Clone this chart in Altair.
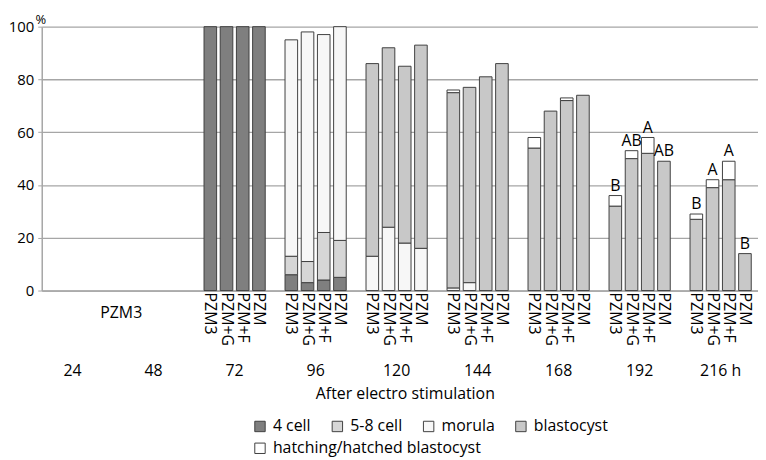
import altair as alt
import pandas as pd

# ---- data ----
times = ["24", "48", "72", "96", "120", "144", "168", "192", "216"]
time_labels = ["24", "48", "72", "96", "120", "144", "168", "192", "216 h"]
treatments = ["PZM3", "PZM+G", "PZM+F", "PZM"]
bar_times = ["72", "96", "120", "144", "168", "192", "216"]
stages = ["4 cell", "5-8 cell", "morula", "blastocyst", "hatching/hatched blastocyst"]

#              72 h               96 h            120 h            144 h           168 h           192 h           216 h
four_cell  = [100, 100, 100, 100, 6, 3, 4, 5,     0, 0, 0, 0,     0, 0, 0, 0,     0, 0, 0, 0,     0, 0, 0, 0,     0, 0, 0, 0]
five_eight = [0, 0, 0, 0,         7, 8, 18, 14,   0, 0, 0, 0,     0, 0, 0, 0,     0, 0, 0, 0,     0, 0, 0, 0,     0, 0, 0, 0]
morula     = [0, 0, 0, 0,         82, 87, 75, 81, 13, 24, 18, 16, 1, 3, 0, 0,     0, 0, 0, 0,     0, 0, 0, 0,     0, 0, 0, 0]
blastocyst = [0, 0, 0, 0,         0, 0, 0, 0,     73, 68, 67, 77, 74, 74, 81, 86, 54, 68, 72, 74, 32, 50, 52, 49, 27, 39, 42, 14]
hatching   = [0, 0, 0, 0,         0, 0, 0, 0,     0, 0, 0, 0,     1, 0, 0, 0,     4, 0, 1, 0,     4, 3, 6, 0,     2, 3, 7, 0]

letter_times = ["192", "216"]
letters = ["B", "AB", "A", "AB", "B", "A", "A", "B"]

stage_values = [four_cell, five_eight, morula, blastocyst, hatching]

# ---- build tables ----
seg_rows, bar_rows = [], []
for ti, t in enumerate(bar_times):
    g = times.index(t)
    for j, tr in enumerate(treatments):
        k = ti * 4 + j
        base = 0
        for st, arr in zip(stages, stage_values):
            v = arr[k]
            if v > 0:
                seg_rows.append(dict(time=t, treatment=tr, stage=st, start=base, end=base + v, slot=5 * g + j))
                base += v
        bar_rows.append(dict(time=t, treatment=tr, top=base, slot=5 * g + j))

seg = pd.DataFrame(seg_rows)
bars = pd.DataFrame(bar_rows)
main_seg = seg[seg.stage != stages[4]]
hatch_seg = seg[seg.stage == stages[4]]

let_rows = []
for ti, t in enumerate(letter_times):
    for j, tr in enumerate(treatments):
        row = bars[(bars.time == t) & (bars.treatment == tr)].iloc[0]
        let_rows.append(dict(slot=row.slot, top=row.top, letter=letters[ti * 4 + j]))
let_df = pd.DataFrame(let_rows)

time_df = pd.DataFrame(dict(label=time_labels, slot=[5 * g + 1.5 for g in range(len(times))]))
pzm_only = pd.DataFrame(dict(label=["PZM3"], slot=[4.5]))

# ---- encodings ----
FONT = "Open Sans"
GRID = "#a6a6a6"
x_enc = alt.X(
    "slot:Q",
    scale=alt.Scale(domain=[-0.1, 43.5], nice=False, zero=False),
    axis=alt.Axis(labels=False, ticks=False, grid=False, domainColor=GRID, domainWidth=1.5,
                  title="After electro stimulation", titleX=366, titleY=104, titleAlign="center",
                  titleBaseline="middle", titleFontWeight="normal", titleFontSize=16, titleColor="black"),
)
y_scale = alt.Scale(domain=[0, 100], nice=False)
y_axis = alt.Axis(values=[0, 20, 40, 60, 80, 100], grid=True, gridColor=GRID, gridWidth=1.3,
                  domainColor=GRID, domainWidth=1.5, tickColor=GRID, tickSize=4, labelPadding=4,
                  labelFontSize=15, labelColor="black",
                  title="%", titleAngle=0, titleX=-1.5, titleY=-3, titleAlign="center",
                  titleBaseline="alphabetic", titleFontWeight="normal", titleFontSize=13, titleColor="black")

legend_common = dict(orient="none", direction="horizontal", title=None, symbolType="square",
                     symbolSize=110, symbolStrokeColor="#404040", symbolStrokeWidth=1,
                     labelFontSize=16, labelOffset=5, columnPadding=18, padding=0, labelLimit=0,
                     labelColor="black", symbolOpacity=1)

main = alt.Chart(main_seg).mark_bar(size=12.7, stroke="#404040", strokeWidth=1).encode(
    x=x_enc,
    y=alt.Y("start:Q", scale=y_scale, axis=y_axis),
    y2="end:Q",
    fill=alt.Fill("stage:N",
                  scale=alt.Scale(domain=stages[:4], range=["#7f7f7f", "#d6d6d6", "#f7f7f7", "#c8c8c8"]),
                  legend=alt.Legend(legendX=212, legendY=395, **legend_common)),
)

hatch = alt.Chart(hatch_seg).mark_bar(size=12.7, stroke="#404040", strokeWidth=1).encode(
    x=x_enc,
    y=alt.Y("start:Q", scale=y_scale, axis=y_axis),
    y2="end:Q",
    fill=alt.Fill("stage:N",
                  scale=alt.Scale(domain=stages[4:], range=["#ffffff"]),
                  legend=alt.Legend(legendX=212, legendY=417, **legend_common)),
)

tick_text = alt.Chart(bars).mark_text(angle=90, align="left", baseline="middle", fontSize=16, color="black").encode(
    x=x_enc, y=alt.value(268), text="treatment:N")

pzm_text = alt.Chart(pzm_only).mark_text(align="center", baseline="middle", fontSize=16, color="black").encode(
    x=x_enc, y=alt.value(289), text="label:N")

time_text = alt.Chart(time_df).mark_text(align="center", baseline="middle", fontSize=16, color="black").encode(
    x=x_enc, y=alt.value(347), text="label:N")

letter_text = alt.Chart(let_df).mark_text(align="center", baseline="alphabetic", dy=-5, fontSize=16, color="black").encode(
    x=x_enc, y=alt.Y("top:Q", scale=y_scale, axis=y_axis), text="letter:N")

chart = alt.layer(main, hatch, tick_text, pzm_text, time_text, letter_text).resolve_scale(
    fill="independent"
).properties(
    width=722, height=266,
    autosize=alt.AutoSizeParams(type="none"),
    padding={"left": 34, "top": 17, "right": 0, "bottom": 169},
).configure(font=FONT).configure_view(stroke=None)

chart.save("out.html", embed_options={"renderer": "svg", "actions": False})
